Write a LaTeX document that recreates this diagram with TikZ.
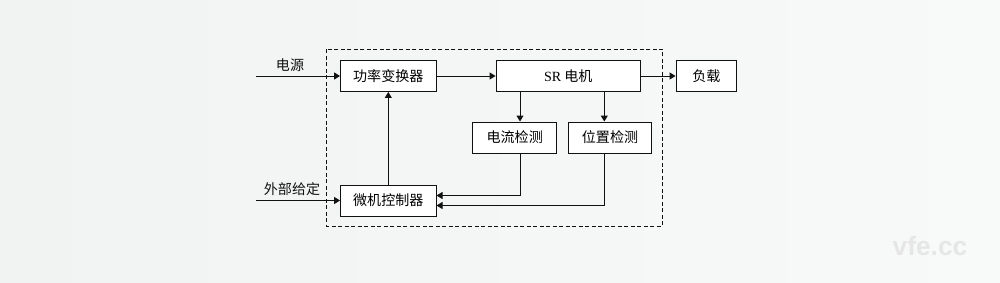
\documentclass[tikz,border=0pt]{standalone}
\usepackage{fontspec}
\setmainfont{Noto Sans CJK SC}
\newfontfamily\latinserif{Liberation Serif}
\newfontfamily\marksans{Liberation Sans}
\usetikzlibrary{arrows.meta,positioning}
\definecolor{inkblack}{HTML}{111111}
\definecolor{bgedge}{HTML}{F1F3F3}
\definecolor{markgray}{HTML}{E6E6E6}

\begin{document}
\begin{tikzpicture}[
    x=0.02cm, y=-0.02cm,
    font=\fontsize{8pt}{10pt}\selectfont,
    >={Triangle[length=1.2mm, width=1.4mm]},
    block/.style={draw=inkblack, line width=0.55pt, minimum height=6.2mm,
                  inner sep=1pt, fill=white},
    link/.style={->, draw=inkblack, line width=0.55pt},
    frame/.style={draw=inkblack, line width=0.55pt, dash pattern=on 0.8mm off 0.5mm},
    tag/.style={text=inkblack, inner sep=1pt},
]

% background
\fill[left color=bgedge, middle color=white, right color=bgedge!50]
    (0,0) rectangle (1000,283);
\useasboundingbox (0,0) rectangle (1000,283);

% =====================================================================
% dashed frame round the drive
% =====================================================================
\draw[frame] (326.7,49.3) rectangle (662.7,226);

% blocks
\node[block, minimum width=19.1mm] (pwr)   at (388.3,76)    {功率变换器};
\node[block, minimum width=28.9mm] (motor) at (568.3,76)    {{\latinserif SR} 电机};
\node[block, minimum width=12.1mm] (load)  at (706.3,76)    {负载};
\node[block, minimum width=16.8mm] (cur)   at (514.7,137.5) {电流检测};
\node[block, minimum width=16.7mm] (pos)   at (610,137.5)   {位置检测};
\node[block, minimum width=19.1mm] (mcu)   at (388.3,200.5) {微机控制器};

% inputs from outside
\coordinate (supply) at (256,76);
\coordinate (setin)  at (256,200.5);
\node[tag] (supplylbl) at (290,65)  {电源};
\node[tag] (setlbl)    at (292,189) {外部给定};
\draw[link] (supply) -- (pwr.west);
\draw[link] (setin) -- (mcu.west);

% forward path
\draw[link] (pwr.east) -- (motor.west);
\draw[link] (motor.east) -- (load.west);
\draw[link] (mcu.north) -- (pwr.south);

% sensing taps
\coordinate (ctap) at (520,0);
\coordinate (ptap) at (604.3,0);
\draw[link] (motor.south -| ctap) -- (cur.north -| ctap);
\draw[link] (motor.south -| ptap) -- (pos.north -| ptap);

% feedback to controller
\draw[link] (cur.south -| ctap) |- ([yshift=1mm]mcu.east);
\draw[link] (pos.south -| ptap) |- ([yshift=-1mm]mcu.east);

% watermark
\node[text=markgray, font=\marksans\bfseries\fontsize{15pt}{15pt}\selectfont]
    (mark) at (930,246) {vfe.cc};

\end{tikzpicture}
\end{document}
